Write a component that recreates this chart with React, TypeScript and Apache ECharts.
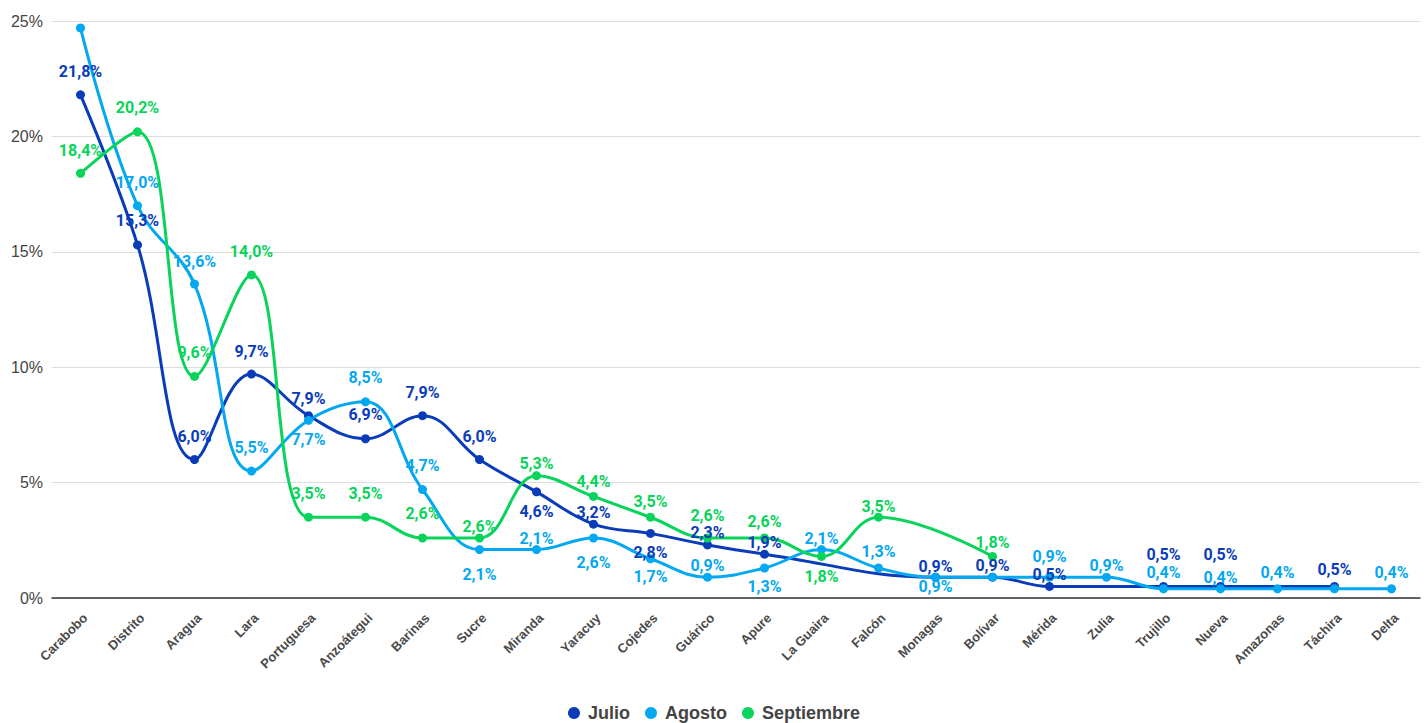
import React, { useEffect, useRef } from "react";
import * as echarts from "echarts";

const categories = [
  "Carabobo", "Distrito", "Aragua", "Lara", "Portuguesa", "Anzoátegui", "Barinas", "Sucre",
  "Miranda", "Yaracuy", "Cojedes", "Guárico", "Apure", "La Guaira", "Falcón", "Monagas",
  "Bolívar", "Mérida", "Zulia", "Trujillo", "Nueva", "Amazonas", "Táchira", "Delta",
];

const julio: (number | null)[] = [
  21.8, 15.3, 6.0, 9.7, 7.9, 6.9, 7.9, 6.0, 4.6, 3.2, 2.8, 2.3, 1.9, null, null, 0.9,
  0.9, 0.5, null, 0.5, 0.5, null, 0.5, null,
];
const agosto: (number | null)[] = [
  24.7, 17.0, 13.6, 5.5, 7.7, 8.5, 4.7, 2.1, 2.1, 2.6, 1.7, 0.9, 1.3, 2.1, 1.3, 0.9,
  0.9, 0.9, 0.9, 0.4, 0.4, 0.4, 0.4, 0.4,
];
const septiembre: (number | null)[] = [
  18.4, 20.2, 9.6, 14.0, 3.5, 3.5, 2.6, 2.6, 5.3, 4.4, 3.5, 2.6, 2.6, 1.8, 3.5, null,
  1.8, null, null, null, null, null, null, null,
];

const yTicks = [0, 5, 10, 15, 20, 25];

// label vertical offsets (style only); null = label hidden
const julioLabelDy = [-23, -24, -23, -23, -17, -24, -23, -23, 20, -12, 19, -12, -12, null, null, -11, -12, -12, null, -32, -32, null, -17, null];
const agostoLabelDy = [null, -23, -23, -24, 19, -24, -24, 25, -11, 25, 18, -12, 19, -11, -16, 9, null, -21, -12, -16, -11, -16, null, -16];
const septLabelDy = [-23, -24, -24, -23, -24, -24, -24, -11, -12, -15, -16, -22, -16, 20, -11, null, -14, null, null, null, null, null, null, null];

const COLORS = { julio: "#0a3cb9", agosto: "#04a8f0", sept: "#08d35a" };

function fmt(v: number) {
  return v.toFixed(1).replace(".", ",") + "%";
}

function buildSeries(name: string, values: (number | null)[], dys: (number | null)[], color: string) {
  return {
    name,
    type: "line",
    smooth: 0.4,
    connectNulls: true,
    symbol: "circle",
    symbolSize: 9,
    color,
    lineStyle: { width: 3, color },
    itemStyle: { color },
    data: values.map((v, i) => {
      const dy = dys[i];
      return {
        value: v === null ? "-" : v,
        label:
          v === null || dy === null
            ? { show: false }
            : {
                show: true,
                position: "inside",
                offset: [0, dy],
                formatter: () => fmt(v),
                color,
                fontFamily: "Roboto",
                fontWeight: "bold",
                fontSize: 16,
              },
      };
    }),
  };
}

export default function App() {
  const ref = useRef<HTMLDivElement>(null);
  useEffect(() => {
    if (!ref.current) return;
    const chart = echarts.init(ref.current, null, { renderer: "svg" });
    chart.setOption({
      animation: false,
      backgroundColor: "#ffffff",
      grid: { left: 52, right: 8, top: 21, bottom: 125, containLabel: false },
      legend: {
        data: ["Julio", "Agosto", "Septiembre"],
        top: 699,
        left: "center",
        icon: "circle",
        itemWidth: 18,
        itemHeight: 12,
        itemGap: 15,
        textStyle: {
          fontFamily: "Liberation Sans, Arial",
          fontWeight: "bold",
          fontSize: 18,
          color: "#444444",
        },
      },
      xAxis: {
        type: "category",
        data: categories,
        boundaryGap: true,
        axisLine: { show: true, lineStyle: { color: "#333333", width: 1.5 } },
        axisTick: { show: false },
        axisLabel: {
          rotate: 45,
          interval: 0,
          margin: 13,
          verticalAlign: "top",
          fontFamily: "Liberation Sans, Arial",
          fontWeight: "bold",
          fontSize: 13,
          color: "#4a4a4a",
        },
      },
      yAxis: {
        type: "value",
        min: yTicks[0],
        max: yTicks[yTicks.length - 1],
        interval: 5,
        axisLine: { show: false },
        axisTick: { show: false },
        splitLine: { lineStyle: { color: "#dddddd", width: 1 } },
        axisLabel: {
          formatter: "{value}%",
          margin: 9,
          fontFamily: "Liberation Sans, Arial",
          fontSize: 16,
          color: "#444444",
        },
      },
      series: [
        buildSeries("Julio", julio, julioLabelDy, COLORS.julio),
        buildSeries("Agosto", agosto, agostoLabelDy, COLORS.agosto),
        buildSeries("Septiembre", septiembre, septLabelDy, COLORS.sept),
      ],
    });
    return () => chart.dispose();
  }, []);
  return (
    <div
      ref={ref}
      style={{ position: "fixed", left: 0, top: 0, width: 1428, height: 723, background: "#fff" }}
    />
  );
}
